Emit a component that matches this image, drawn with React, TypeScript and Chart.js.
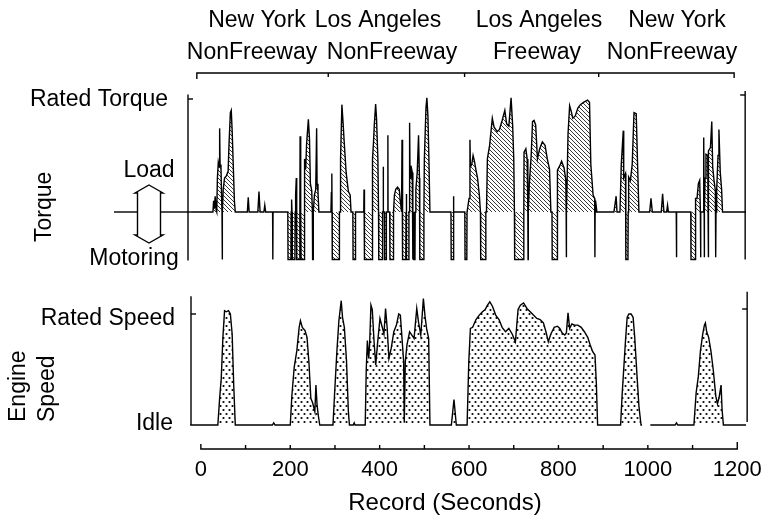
import React, { useEffect, useRef } from 'react';
import { Chart, registerables } from 'chart.js';

Chart.register(...registerables);

const FONT = '"Liberation Sans", Arial, Helvetica, sans-serif';

// Record time axis (seconds)
const xTickValues = [0, 200, 400, 600, 800, 1000, 1200];
const xMinorStep = 100;
const segmentBounds = [285, 590, 890];
const routeCities = ['New York', 'Los Angeles', 'Los Angeles', 'New York'];
const routeTypes = ['NonFreeway', 'NonFreeway', 'Freeway', 'NonFreeway'];

// Torque as fraction of rated torque (negative = motoring) : [seconds, fraction]
const torqueTrace: [number, number][] = [
  [-24, 0],
  [27, 0], [28.5, 0.1], [30, 0.03], [32, 0.14], [34, 0.02], [35.5, 0],
  [37, 0.3], [39, 0.44], [41, 0.4], [42, 0.74], [43, 0.42], [45, 0.4], [46.5, 0.1], [47.3, 0],
  [47.8, -0.42], [48.3, 0],
  [50, 0.2], [53, 0.3], [57, 0.32], [61, 0.36], [63, 0.6], [66, 0.88], [68, 0.9], [70, 0.72], [73, 0.35], [75, 0.1], [77, 0],
  [104, 0], [106, 0.13], [108, 0],
  [127.5, 0], [130, 0.18], [132.5, 0],
  [141, 0], [143, 0.06], [145, 0],
  [160.5, 0], [161, -0.42], [161.5, 0],
  [194.5, 0], [195, -0.42], [201.5, -0.42], [202, 0], [203, 0.11], [204, 0], [204.5, -0.42], [210.5, -0.42], [211, 0],
  [212, 0.15], [213.5, 0.3], [214.2, 0], [214.7, -0.42], [221, -0.42], [221.5, 0], [222, 0.67], [223, 0.2], [223.7, 0],
  [224.2, -0.42], [231, -0.42], [231.5, 0], [232.5, 0.47], [234.5, 0.38], [236.5, 0.6], [240.5, 0.82], [243, 0.65],
  [245, 0.25], [248, 0.19], [249.5, 0], [250, -0.42], [251, -0.42], [251.5, 0], [254, 0.15], [257, 0.2], [259, 0.74],
  [260, 0.25], [262, 0.18], [264, 0],
  [291, 0], [292, 0.17], [293, 0.34], [293.5, 0], [294, -0.42], [309.5, -0.42], [310, 0],
  [311.5, 0], [312.5, 0.47], [315.5, 0.95], [318, 0.8], [321, 0.6], [325, 0.35], [330, 0.18], [334, 0.15], [336, 0],
  [340, 0], [340.5, -0.42], [345.5, -0.42], [346, 0],
  [364.5, 0], [365, 0.2], [365.5, 0],
  [366.5, -0.42], [383, -0.42], [383.5, 0],
  [384.5, 0.47], [386, 0.6], [388, 0.77], [391, 0.955], [393, 0.83], [396, 0.47], [397.5, 0],
  [398, -0.42], [406, -0.42], [406.5, 0],
  [407.5, 0], [408, 0.4], [408.5, 0],
  [410.5, 0], [411, -0.42], [414.5, -0.42], [415, 0],
  [418, 0], [418.4, 0.68], [418.8, 0],
  [422.5, 0], [423, -0.42], [430.5, -0.42], [431, 0],
  [433, 0.15], [436, 0.2], [440, 0.22], [444, 0.2], [446, 0.1], [449, 0], [450, 0.64], [451, 0],
  [451.5, -0.42], [458.5, -0.42], [459, 0], [459.5, 0.16], [460, 0], [460.5, -0.42], [465, -0.42], [465.5, 0],
  [466.5, 0], [467, 0.79], [468, 0.3], [470, 0.41], [473, 0.35], [474, 0], [474.5, -0.42], [475, 0],
  [476, 0], [476.5, -0.42], [479, -0.42], [479.5, 0],
  [481, 0.2], [484, 0.35], [487, 0.68], [489, 0.3], [489.5, 0],
  [490, -0.42], [498.5, -0.42], [499, 0],
  [500, 0.47], [503.6, 0.92], [505.6, 1.01], [508, 0.85], [510, 0.5], [512.5, 0],
  [559.5, 0], [560, -0.42], [564.5, -0.42], [565, 0], [565.5, 0.14], [566, 0],
  [590.5, 0], [591, -0.42], [595, -0.42], [595.5, 0],
  [597, 0], [600, 0.12], [602, 0.64], [603, 0.4], [606, 0.42], [609, 0.5], [612, 0.45], [615, 0.38], [619, 0.3], [623, 0.15], [625.5, 0],
  [626, -0.42], [637, -0.42], [637.5, 0],
  [639, 0], [641, 0.47], [646, 0.59], [652, 0.83], [656, 0.75], [663, 0.71], [668, 0.73], [674, 0.81], [680, 0.9],
  [684, 0.78], [689, 0.76], [694, 1.01], [697.6, 0.76], [700, 0.47], [701.5, 0],
  [702, -0.42], [722, -0.42], [722.5, 0],
  [723, 0.53], [727, 0.56], [730, 0.47], [731.5, 0], [732, -0.42], [732.5, 0],
  [735, 0.26], [739, 0.5], [742, 0.8], [745.4, 0.81], [749, 0.77], [753, 0.47], [758, 0.56], [764, 0.62], [770, 0.59],
  [775, 0.47], [780, 0.38], [783, 0],
  [785.5, 0], [786, -0.42], [797, -0.42], [797.5, 0],
  [798, 0.37], [803, 0.41], [807, 0.45], [812.6, 0.39], [816.5, 0.28], [817.2, 0], [817.6, -0.4], [818, 0], [819.5, 0.3],
  [821.4, 0.69], [825, 0.94], [828.6, 0.89], [832, 0.83], [837.6, 0.85], [843.4, 0.92], [849, 0.95], [856, 0.97],
  [865, 0.99], [869.5, 0.97], [872.4, 0.42], [877.5, 0.15], [881, 0.12], [881.4, 0], [881.7, -0.4], [882, 0], [883, 0.1], [886, 0],
  [924, 0], [927, 0.08], [929, 0.14], [931, 0],
  [937.6, 0], [940.5, 0.42], [945, 0.72], [946, 0.3], [950, 0.34], [950.5, 0], [951, -0.42], [955.5, -0.42], [956, 0],
  [957, 0.31], [961, 0.28], [965, 0.42], [969, 0.88], [974, 0.87], [977, 0.42], [980, 0],
  [1004, 0], [1007, 0.12], [1010, 0],
  [1030, 0], [1033, 0.16], [1036, 0],
  [1042, 0], [1044, 0.06], [1046, 0],
  [1063.5, 0], [1064, -0.4], [1064.5, 0],
  [1096, 0], [1096.5, -0.42], [1106, -0.42], [1106.5, 0], [1107, 0.12], [1110, 0.12], [1113, 0.25], [1116, 0.28],
  [1117.5, 0], [1118, -0.4], [1118.5, 0],
  [1124, 0], [1125, 0.66], [1126, 0], [1126.3, -0.4], [1126.6, 0], [1128, 0.3], [1130, 0.51], [1134, 0.5], [1134.7, 0],
  [1135.1, -0.4], [1135.5, 0], [1136, 0.54], [1140, 0.57], [1143, 0.8], [1145, 0.4], [1148, 0.28], [1151, 0.19],
  [1151.5, 0], [1152, -0.4], [1152.5, 0], [1154, 0.2], [1157, 0.5], [1159, 0.73], [1162, 0.35], [1165, 0.2], [1167, 0],
  [1220, 0],
];

// Engine speed above idle as fraction of rated : [seconds, fraction]
const speedTrace: [number, number | null][] = [
  [-24, 0], [38, 0], [42, 0.24], [45.6, 0.42], [49.3, 0.79], [53, 1.03], [56.6, 1.02], [61.8, 1.03], [66, 1.0],
  [70, 0.82], [73.5, 0.36], [77, 0],
  [160, 0], [163, 0.02], [166, 0],
  [200, 0], [203.7, 0.27], [208.8, 0.52], [214.7, 0.67], [219.9, 0.88], [222.8, 0.94], [227, 0.88], [233, 0.85],
  [237.5, 0.79], [242, 0.55], [246, 0.24], [250, 0.2], [255, 0.12], [257.4, 0.36], [260, 0.18], [262.6, 0.09], [266, 0],
  [295.6, 0], [299, 0.27], [304.4, 0.67], [308.8, 0.94], [314, 1.12], [316.9, 0.97], [321, 0.88], [325.8, 0.58],
  [330, 0.12], [332.4, 0],
  [341, 0], [343, 0.02], [345, 0],
  [367.7, 0], [370, 0.5], [372.5, 0.76], [375.5, 0.6], [377.5, 0.72], [380.5, 1.08], [383.5, 1.04], [387.5, 0.75],
  [391.2, 0.54], [394.9, 0.72], [400.7, 0.96], [405.9, 0.88], [409.6, 0.82], [413.2, 1.05], [416.9, 0.87],
  [420.7, 0.6], [425.8, 0.69], [431.7, 0.84], [437.5, 0.9], [442.7, 1.0], [446.3, 0.99], [450, 0.78], [453.7, 0.57],
  [455, 0.02], [456, 0.02], [457.4, 0.57], [461, 0.72], [467, 0.84], [472, 0.81], [477, 0.78], [483, 1.05],
  [486.8, 0.93], [492, 0.81], [497.8, 1.14], [501.5, 0.98], [505, 0.87], [509.6, 0.78], [512.5, 0],
  [560.4, 0], [566.3, 0.23], [571.5, 0],
  [595.6, 0], [599.4, 0.57], [603, 0.87], [608, 0.88], [615.5, 0.95], [622.8, 0.99], [630, 1.02], [636, 1.04],
  [641.3, 1.08], [646.4, 1.11], [652.3, 1.07], [659.6, 0.99], [667, 0.95], [674, 0.88], [681.6, 0.84], [689, 0.87],
  [696.4, 0.82], [703.7, 0.75], [709.6, 1.04], [714.8, 1.08], [722, 1.1], [729.5, 1.05], [736.8, 1.02], [744, 0.99],
  [751.6, 0.96], [759, 0.95], [766.3, 0.92], [772, 0.84], [777.3, 0.75], [783, 0.82], [790.5, 0.88], [797.8, 0.89],
  [803, 0.87], [808, 0.83], [814, 0.81], [817.7, 0.83], [821.4, 1.01], [825, 0.87], [830, 0.91], [836, 0.9],
  [843.4, 0.9], [850.8, 0.88], [858, 0.84], [865.5, 0.79], [871, 0.72], [876.6, 0.66], [881.7, 0.63], [884.7, 0.38],
  [887.6, 0],
  [939, 0], [942.7, 0.29], [946.4, 0.53], [950, 0.76], [953.7, 0.97], [957.4, 1.0], [962.5, 1.0], [967, 0.97],
  [970.6, 0.79], [975.8, 0.44], [980, 0.17], [984.7, 0], [987, 0], [987.5, null], [1005, null], [1005.5, 0],
  [1061, 0], [1064, 0.02], [1067, 0],
  [1103, 0], [1108, 0.29], [1113, 0.44], [1117.7, 0.67], [1122.8, 0.82], [1126.5, 0.9], [1128.7, 0.92],
  [1131.6, 0.84], [1136, 0.79], [1141, 0.67], [1146.2, 0.5], [1152, 0.26], [1155.7, 0.19], [1159.4, 0.25],
  [1163.8, 0.36], [1166, 0.14], [1169, 0],
  [1220, 0],
];

function makeHatch(ctx: CanvasRenderingContext2D): CanvasPattern {
  const c = document.createElement('canvas');
  c.width = 4;
  c.height = 4;
  const g = c.getContext('2d')!;
  g.strokeStyle = '#222';
  g.lineWidth = 0.9;
  g.beginPath();
  g.moveTo(-1, -1); g.lineTo(5, 5);
  g.moveTo(-1, 3); g.lineTo(1, 5);
  g.moveTo(3, -1); g.lineTo(5, 1);
  g.stroke();
  return ctx.createPattern(c, 'repeat')!;
}

function makeDots(ctx: CanvasRenderingContext2D): CanvasPattern {
  const c = document.createElement('canvas');
  c.width = 6;
  c.height = 8;
  const g = c.getContext('2d')!;
  g.fillStyle = '#000';
  g.beginPath(); g.arc(1.5, 2, 1.1, 0, Math.PI * 2); g.fill();
  g.beginPath(); g.arc(4.5, 6, 1.1, 0, Math.PI * 2); g.fill();
  return ctx.createPattern(c, 'repeat')!;
}

const annotate = {
  id: 'annotate',
  afterDraw(chart: any) {
    const { ctx, chartArea, scales } = chart;
    const x = scales.x, yT = scales.yT, yS = scales.yS;
    const line = (pts: number[][]) => {
      ctx.beginPath();
      ctx.moveTo(pts[0][0], pts[0][1]);
      for (let i = 1; i < pts.length; i++) ctx.lineTo(pts[i][0], pts[i][1]);
      ctx.stroke();
    };
    ctx.save();
    ctx.strokeStyle = '#000';
    ctx.fillStyle = '#000';
    ctx.lineWidth = 1.4;

    // torque panel frame
    const zT = yT.getPixelForValue(0);
    const rT = yT.getPixelForValue(1);
    const lxT = chartArea.left - 2;
    const rxT = chartArea.right - 1;
    line([[lxT, yT.getPixelForValue(1.04)], [lxT, yT.getPixelForValue(-0.43)]]);
    line([[lxT, rT], [lxT + 5, rT]]);
    line([[rxT, yT.getPixelForValue(1.07)], [rxT, yT.getPixelForValue(-0.42)]]);
    line([[rxT, rT - 4], [rxT - 5, rT - 4]]);
    line([[114, zT], [137, zT]]);
    line([[161, zT], [chartArea.left, zT]]);

    // load / motoring double arrow
    ctx.beginPath();
    ctx.moveTo(149, 185);
    ctx.lineTo(163, 193);
    ctx.lineTo(160.5, 193);
    ctx.lineTo(160.5, 235);
    ctx.lineTo(163, 235);
    ctx.lineTo(149, 243);
    ctx.lineTo(135, 235);
    ctx.lineTo(137.5, 235);
    ctx.lineTo(137.5, 193);
    ctx.lineTo(135, 193);
    ctx.closePath();
    ctx.fillStyle = '#fff';
    ctx.fill();
    ctx.stroke();
    ctx.fillStyle = '#000';

    // speed panel frame
    const zS = yS.getPixelForValue(0);
    const rS = yS.getPixelForValue(1);
    const lxS = chartArea.left + 1;
    const rxS = chartArea.right + 1;
    line([[lxS, yS.getPixelForValue(1.16)], [lxS, zS]]);
    line([[lxS, rS], [lxS + 5, rS]]);
    line([[rxS, yS.getPixelForValue(1.2)], [rxS, zS - 3]]);
    line([[rxS, rS - 5], [rxS - 5, rS - 5]]);

    // bottom time bracket
    const by = chartArea.bottom + 1;
    const x0 = x.getPixelForValue(0);
    const x1 = x.getPixelForValue(1200);
    line([[x0, by - 5], [x0, by], [x1, by], [x1, by - 7]]);
    for (let s = xMinorStep; s < 1200; s += xMinorStep) {
      const px = x.getPixelForValue(s);
      line([[px, by], [px, by - 4]]);
    }

    // top route bracket
    const ty = 73;
    const tx0 = x.getPixelForValue(-9);
    const tx1 = x.getPixelForValue(1193);
    line([[tx0, ty + 6], [tx0, ty], [tx1, ty], [tx1, ty + 5]]);
    segmentBounds.forEach((s) => {
      const px = x.getPixelForValue(s);
      line([[px, ty], [px, ty + 4]]);
    });

    // texts
    ctx.font = `23px ${FONT}`;
    ctx.textBaseline = 'alphabetic';
    ctx.textAlign = 'center';
    const cityX = [257, 378, 539, 677];
    const typeX = [252, 392, 537, 672];
    routeCities.forEach((t, i) => ctx.fillText(t, cityX[i], 27));
    routeTypes.forEach((t, i) => ctx.fillText(t, typeX[i], 59));
    ctx.fillText('Load', 149, 177);
    ctx.fillText('Motoring', 134, 265);
    ctx.textAlign = 'right';
    ctx.fillText('Rated Torque', 168, 106);
    ctx.fillText('Rated Speed', 175, 325);
    ctx.fillText('Idle', 173, 430);
    ctx.textAlign = 'center';
    ctx.font = `24px ${FONT}`;
    ctx.fillText('Record (Seconds)', 445, 510);

    ctx.font = `23px ${FONT}`;
    const vtext = (t: string, bx: number, sy: number) => {
      ctx.save();
      ctx.translate(bx, sy);
      ctx.rotate(-Math.PI / 2);
      ctx.textAlign = 'left';
      ctx.fillText(t, 0, 0);
      ctx.restore();
    };
    vtext('Torque', 51, 242);
    vtext('Engine', 25, 422);
    vtext('Speed', 54, 422);
    ctx.restore();
  },
};

export default function App() {
  const ref = useRef<HTMLCanvasElement>(null);
  useEffect(() => {
    const canvas = ref.current!;
    const ctx = canvas.getContext('2d')!;
    const hatch = makeHatch(ctx);
    const dots = makeDots(ctx);
    const chart = new Chart(ctx, {
      type: 'line',
      data: {
        datasets: [
          {
            label: 'Torque',
            data: torqueTrace.map(([t, v]) => ({ x: t, y: v })),
            yAxisID: 'yT',
            borderColor: '#000',
            borderWidth: 1.4,
            backgroundColor: hatch,
            fill: 'origin',
            pointRadius: 0,
            tension: 0,
          },
          {
            label: 'Engine Speed',
            data: speedTrace.map(([t, v]) => ({ x: t, y: v })),
            yAxisID: 'yS',
            borderColor: '#000',
            borderWidth: 1.4,
            backgroundColor: dots,
            fill: 'origin',
            pointRadius: 0,
            tension: 0,
            spanGaps: false,
          },
        ],
      },
      options: {
        animation: false,
        responsive: false,
        events: [],
        layout: { padding: { left: 190, right: 17, top: 90, bottom: 0 } },
        plugins: { legend: { display: false }, tooltip: { enabled: false } },
        scales: {
          x: {
            type: 'linear',
            position: 'bottom',
            min: -24.3,
            max: 1219.9,
            grid: { display: false, drawTicks: false },
            border: { display: false },
            ticks: {
              color: '#000',
              font: { family: FONT, size: 22 },
              padding: 9,
              maxRotation: 0,
              callback: (v: any) => String(v),
            },
            afterBuildTicks: (s: any) => {
              s.ticks = xTickValues.map((v) => ({ value: v }));
            },
            afterFit: (s: any) => {
              s.height = 69;
            },
          },
          yT: { type: 'linear', display: false, min: -2.0885, max: 1.0796 },
          yS: { type: 'linear', display: false, min: -0.2072, max: 3.018 },
        },
      },
      plugins: [annotate],
    } as any);
    return () => chart.destroy();
  }, []);
  return (
    <div style={{ position: 'fixed', left: 0, top: 0, width: 771, height: 517, background: '#fff' }}>
      <canvas ref={ref} width={771} height={517} style={{ display: 'block' }} />
    </div>
  );
}
